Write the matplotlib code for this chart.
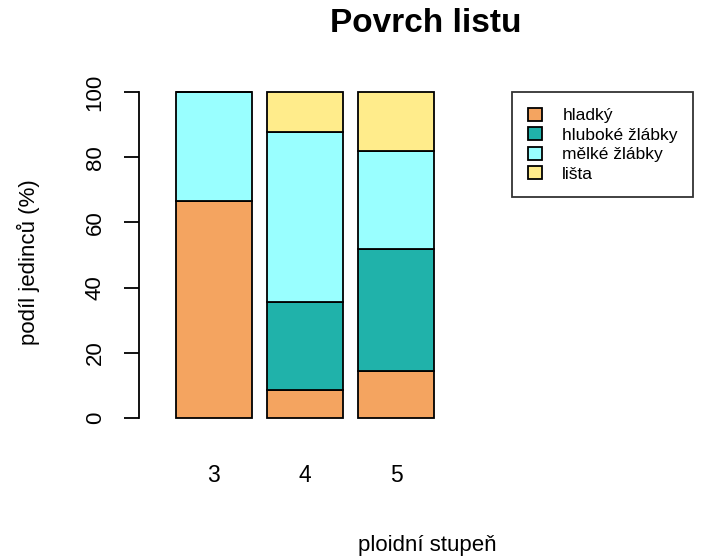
import numpy as np
import matplotlib.pyplot as plt
from matplotlib.patches import Patch

plt.rcParams['font.family'] = ['Liberation Sans', 'DejaVu Sans']

ploidy = ["3", "4", "5"]
categories = ["hladký", "hluboké žlábky", "mělké žlábky", "lišta"]
colors = ["#F4A460", "#20B2AA", "#99FFFF", "#FFEC8B"]
# percentages per ploidy level (columns: 3, 4, 5)
hladky = [66.7, 8.7, 14.3]
hluboke = [0.0, 26.9, 37.5]
melke = [33.3, 52.2, 30.0]
lista = [0.0, 12.2, 18.2]
values = [hladky, hluboke, melke, lista]

W, H = 705, 560
fig = plt.figure(figsize=(W/100, H/100), dpi=100)
# plot region in pixels: left 139, top 79, bottom 431
ax = fig.add_axes([139/W, (H-431)/H, (W-139)/W, (431-79)/H])

x = np.array([0.7, 1.9, 3.1])
bottom = np.zeros(3)
for vals, col in zip(values, colors):
    vals = np.array(vals)
    ax.bar(x, vals, width=1.0, bottom=bottom, color=col, edgecolor="black",
           linewidth=1.3)
    bottom += vals

ax.set_xlim(0.2 - 37/75.88, 0.2 + (W-176)/75.88)
ax.set_ylim(-4, 104)

for s in ["top", "right", "bottom"]:
    ax.spines[s].set_visible(False)
ax.spines["left"].set_bounds(0, 100)
ax.spines["left"].set_linewidth(1.3)
ax.set_yticks([0, 20, 40, 60, 80, 100])
ax.tick_params(axis="y", length=11, width=1.3, pad=13, labelsize=16,
               labelrotation=90)
for lab in ax.get_yticklabels():
    lab.set_va("center")
ax.set_xticks(x)
ax.set_xticklabels(ploidy)
ax.tick_params(axis="x", length=0, pad=24, labelsize=16.5)

fig.text(426/W, 1-23/H, "Povrch listu", ha="center", va="center",
         fontsize=24, fontweight="bold")
fig.text(427/W, 1-546/H, "ploidní stupeň", ha="center", va="center", fontsize=16)
fig.text(28/W, 1-262/H, "podíl jedinců (%)", ha="center", va="center",
         fontsize=16, rotation=90)

handles = [Patch(facecolor=c, edgecolor="black", linewidth=1.3) for c in colors]
leg = fig.legend(handles, categories, loc="upper left",
                 bbox_to_anchor=(512/W, 1-92/H), fontsize=12.5, frameon=True,
                 fancybox=False, edgecolor="black", handlelength=0.8,
                 handleheight=0.8, handletextpad=1.2, labelspacing=0.22,
                 borderpad=0.9, borderaxespad=0)
leg.get_frame().set_linewidth(1.3)

fig.savefig("out.png", dpi=100)
